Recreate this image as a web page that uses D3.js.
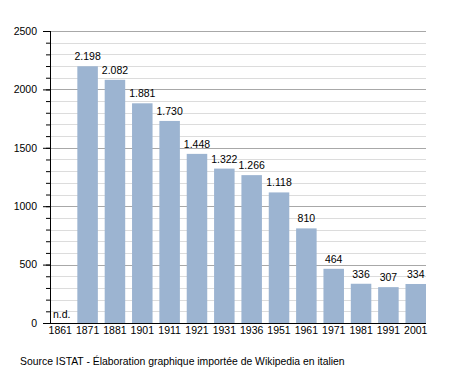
<!DOCTYPE html>
<html>
<head>
<meta charset="utf-8">
<script src="https://cdn.jsdelivr.net/npm/d3@7"></script>
<style>
  body { margin: 0; background: #fff; }
  text { font-family: "Liberation Sans", Arial, sans-serif; fill: #000; }
</style>
</head>
<body>
<div id="chart"></div>
<script>
var years = ['1861','1871','1881','1901','1911','1921','1931','1936','1951','1961','1971','1981','1991','2001'];
var population = [null,2198,2082,1881,1730,1448,1322,1266,1118,810,464,336,307,334];
var yTicks = [0,500,1000,1500,2000,2500];

var width = 455, height = 373;
var plotLeft = 50, plotRight = 426, plotTop = 31, plotBottom = 323;
var fontStack = '"Liberation Sans", Arial, sans-serif';

var data = years.map(function(y, i){ return {year: y, value: population[i]}; });

var svg = d3.select('#chart').append('svg')
  .attr('width', width)
  .attr('height', height);

var x = d3.scaleBand().domain(years).range([plotLeft, plotRight]).paddingInner(0.25).paddingOuter(0);
var y = d3.scaleLinear().domain([0,2500]).range([plotBottom, plotTop]);

// gridlines, minor every 100 and major every 500
var minor = d3.range(100, 2500, 100).filter(function(d){ return d % 500 != 0; });
svg.append('g').selectAll('line')
  .data(minor).enter().append('line')
  .attr('x1', plotLeft).attr('x2', plotRight)
  .attr('y1', function(d){ return Math.round(y(d)) + 0.5; }).attr('y2', function(d){ return Math.round(y(d)) + 0.5; })
  .attr('stroke', '#dcdcdc').attr('stroke-width', 1);
svg.append('g').selectAll('line')
  .data(yTicks.filter(function(d){ return d > 0; })).enter().append('line')
  .attr('x1', plotLeft).attr('x2', plotRight)
  .attr('y1', function(d){ return Math.round(y(d)) + 0.5; }).attr('y2', function(d){ return Math.round(y(d)) + 0.5; })
  .attr('stroke', '#a8a8a8').attr('stroke-width', 1);

// bars
svg.append('g').selectAll('rect')
  .data(data.filter(function(d){ return d.value != null; }))
  .enter().append('rect')
  .attr('x', function(d){ return x(d.year); })
  .attr('y', function(d){ return y(d.value); })
  .attr('width', x.bandwidth())
  .attr('height', function(d){ return y(0) - y(d.value); })
  .attr('fill', '#9cb4d1');

// value labels
svg.append('g').selectAll('text')
  .data(data).enter().append('text')
  .attr('x', function(d){ return d.value == null ? plotLeft + 3 : x(d.year) + x.bandwidth()/2; })
  .attr('y', function(d){ return d.value == null ? y(0) - 5 : y(d.value) - 6; })
  .attr('text-anchor', function(d){ return d.value == null ? 'start' : 'middle'; })
  .attr('font-size', 10.5)
  .text(function(d){ return d.value == null ? 'n.d.' : d3.format(',')(d.value).replace(',', '.'); });

// y axis with minor ticks
var yMinor = svg.append('g').attr('transform', 'translate(' + plotLeft + ',0)')
  .call(d3.axisLeft(y).tickValues(d3.range(0, 2501, 100)).tickSize(4).tickFormat(''));
yMinor.select('.domain').remove();
var yMajor = svg.append('g').attr('transform', 'translate(' + plotLeft + ',0)')
  .call(d3.axisLeft(y).tickValues(yTicks).tickSize(7).tickPadding(6).tickFormat(d3.format('d')));
yMajor.selectAll('text').attr('font-size', 10.5).attr('font-family', fontStack);
yMajor.select('.domain').attr('d', 'M0.5,' + y(2500) + 'V' + (y(0) + 0.5));

// x axis
var xAxis = svg.append('g').attr('transform', 'translate(0,' + plotBottom + ')')
  .call(d3.axisBottom(x).tickSize(0).tickPadding(4));
xAxis.select('.domain').attr('d', 'M' + (plotLeft - 4) + ',0.5H' + plotRight);
xAxis.selectAll('text').attr('font-size', 10.5).attr('font-family', fontStack);

svg.append('text')
  .attr('x', 20).attr('y', 365)
  .attr('font-size', 10.4)
  .text('Source ISTAT - Élaboration graphique importée de Wikipedia en italien');
</script>
</body>
</html>
